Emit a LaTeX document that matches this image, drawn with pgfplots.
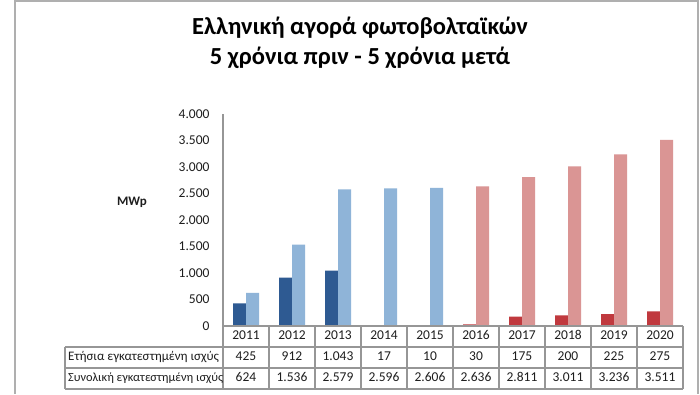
\documentclass[border=0pt]{standalone}
\usepackage{pgfplots}
\pgfplotsset{compat=1.18}
\usepackage{fontspec}
\setmainfont{Carlito}
\definecolor{dblue}{RGB}{46,90,146}
\definecolor{lblue}{RGB}{143,180,216}
\definecolor{dred}{RGB}{192,57,62}
\definecolor{lred}{RGB}{218,149,148}
\definecolor{framec}{RGB}{175,175,175}
\definecolor{gridc}{RGB}{150,150,150}
\definecolor{txt}{RGB}{30,30,30}
\begin{document}
\begin{tikzpicture}[x=1pt,y=1pt]
\path[use as bounding box, fill=white] (0,0) rectangle (700,-394);
\draw[framec, line width=1.5pt] (15,-394) -- (15,-1) -- (698,-1) -- (698,-394);
\node[font=\bfseries\fontsize{24.5}{28}\selectfont, text=black] at (360,-28) {Ελληνική αγορά φωτοβολταϊκών};
\node[font=\bfseries\fontsize{24.5}{28}\selectfont, text=black] at (360,-58) {5 χρόνια πριν - 5 χρόνια μετά};
\node[font=\bfseries\fontsize{13}{15}\selectfont, text=txt] at (132,-202) {MWp};
\begin{axis}[at={(223pt,-326pt)}, anchor=south west, scale only axis,
  width=460pt, height=212pt,
  xmin=-0.5, xmax=9.5, ymin=0, ymax=4000,
  axis lines*=left,
  x axis line style={draw=none},
  y axis line style={draw=gridc, line width=1.5pt},
  xtick=\empty,
  ytick={0,500,...,4000},
  major tick length=0pt,
  yticklabel style={font=\fontsize{13.5}{15}\selectfont, text=txt, xshift=-10pt},
  clip=false,
  /pgf/number format/.cd, 1000 sep={.}, assume math mode=true]
\addplot[ybar, bar width=13pt, bar shift=-6.5pt, fill=dblue, draw=none] coordinates {(0,425) (1,912) (2,1043) (3,17) (4,10)};
\addplot[ybar, bar width=13pt, bar shift=6.5pt, fill=lblue, draw=none] coordinates {(0,624) (1,1536) (2,2579) (3,2596) (4,2606)};
\addplot[ybar, bar width=13pt, bar shift=-6.5pt, fill=dred, draw=none] coordinates {(5,30) (6,175) (7,200) (8,225) (9,275)};
\addplot[ybar, bar width=13pt, bar shift=6.5pt, fill=lred, draw=none] coordinates {(5,2636) (6,2811) (7,3011) (8,3236) (9,3511)};
\end{axis}
% table grid
\begin{scope}[gridc, line width=1.3pt]
\foreach \k in {0,...,10} \draw ({223+46*\k},-326) -- ({223+46*\k},-389);
\draw (223,-326) -- (683,-326);
\draw (65,-347) -- (683,-347);
\draw (65,-368) -- (683,-368);
\draw (65,-389) -- (683,-389);
\draw (65,-347) -- (65,-389);
\end{scope}
\begin{scope}[every node/.style={font=\fontsize{13.5}{16}\selectfont, text=txt, text height=9pt, text depth=2.5pt, inner ysep=0pt}]
\foreach \y [count=\i from 0] in {2011,2012,2013,2014,2015,2016,2017,2018,2019,2020}
  \node at ({246+46*\i},-336.5) {\y};
\foreach \v [count=\i from 0] in {425,912,1.043,17,10,30,175,200,225,275}
  \node at ({246+46*\i},-357.5) {\v};
\foreach \v [count=\i from 0] in {624,1.536,2.579,2.596,2.606,2.636,2.811,3.011,3.236,3.511}
  \node at ({246+46*\i},-378.5) {\v};
\node[anchor=west, inner xsep=1pt, font=\fontsize{13}{16}\selectfont] at (67,-357.5) {Ετήσια εγκατεστημένη ισχύς};
\node[anchor=west, inner xsep=1pt, font=\fontsize{12.4}{16}\selectfont] at (67,-378.5) {Συνολική εγκατεστημένη ισχύς};
\end{scope}
\end{tikzpicture}
\end{document}
